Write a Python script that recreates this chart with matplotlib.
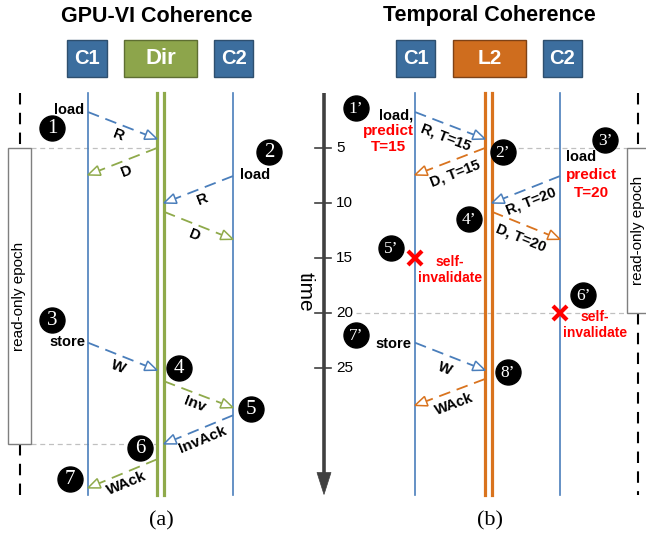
import numpy as np
import matplotlib
matplotlib.use('Agg')
import matplotlib.pyplot as plt
from matplotlib.patches import Rectangle, Polygon
from matplotlib.transforms import Affine2D

plt.rcParams['font.family'] = ['Liberation Sans', 'DejaVu Sans']

# ---------------- data ----------------
time_ticks = [5, 10, 15, 20, 25]
t_max = 36.5

# panel (a) GPU-VI coherence messages
a_src   = ['C1', 'Dir', 'C2', 'Dir', 'C1', 'Dir', 'C2', 'Dir']
a_dst   = ['Dir', 'C1', 'Dir', 'C2', 'Dir', 'C2', 'Dir', 'C1']
a_t0    = [1.73, 5.0, 7.55, 10.8, 22.7, 26.2, 29.3, 33.3]
a_t1    = [4.18, 7.45, 10.0, 13.3, 25.2, 28.6, 31.9, 35.9]
a_label = ['R', 'D', 'R', 'D', 'W', 'Inv', 'InvAck', 'WAck']
a_epoch = (5.0, 31.9)

# panel (b) temporal coherence messages
b_src   = ['C1', 'L2', 'C2', 'L2', 'C1', 'L2']
b_dst   = ['L2', 'C1', 'L2', 'C2', 'L2', 'C1']
b_t0    = [1.73, 5.0, 7.55, 10.8, 22.7, 26.0]
b_t1    = [4.18, 7.45, 10.0, 13.3, 25.2, 28.4]
b_label = ['R, T=15', 'D, T=15', 'R, T=20', 'D, T=20', 'W', 'WAck']
b_epoch = (5.0, 20.0)
b_selfinv_lane = ['C1', 'C2']
b_selfinv_t = [15.0, 20.0]

# step markers (label, x in px, time)
a_steps = ['1', '2', '3', '4', '5', '6', '7']
a_step_x = [52, 269, 52, 179, 251, 140, 70]
a_step_t = [3.18, 5.36, 20.6, 25.0, 28.7, 32.3, 35.1]
b_steps = ['1\u2019', '2\u2019', '3\u2019', '4\u2019', '5\u2019', '6\u2019', '7\u2019', '8\u2019']
b_step_x = [356, 503, 605, 469, 391, 583, 356, 508]
b_step_t = [1.36, 5.36, 4.27, 11.45, 14.1, 18.4, 22.0, 25.4]

# ---------------- layout ----------------
W, H = 646, 538
T0_PX, PX_PER_T = 93, 11.0
BLUE = '#4A7EBB'
GREEN = '#8FAA4B'
ORANGE = '#D9731E'
RED = '#FF0000'

lanes_a = {'C1': 88, 'DirL': 157, 'DirR': 164, 'C2': 233}
lanes_b = {'C1': 415, 'L2L': 485, 'L2R': 492, 'C2': 560}

fig = plt.figure(figsize=(W / 100, H / 100), dpi=100)
ax = fig.add_axes([0, 0, 1, 1])
ax.set_xlim(0, W)
ax.set_ylim((H - T0_PX) / PX_PER_T, -T0_PX / PX_PER_T)
ax.axis('off')
pxT = Affine2D().scale(1.0 / W, -1.0 / H).translate(0, 1) + fig.transFigure


def head(p_from, p_to, length, hw, fc, ec, lw, z):
    a = ax.transData.transform(p_from)
    b = ax.transData.transform(p_to)
    v = b - a
    u = v / np.hypot(*v)
    n = np.array([-u[1], u[0]])
    base = b - u * length
    pts = np.array([b, base + n * hw, base - n * hw])
    ax.add_patch(Polygon(ax.transData.inverted().transform(pts), closed=True,
                         fc=fc, ec=ec, lw=lw, zorder=z, joinstyle='miter'))
    return ax.transData.inverted().transform(base)


def message(x0, t0, x1, t1, color, label, off, fs):
    base = head((x0, t0), (x1, t1), 12, 5, 'white', color, 1.1, 5)
    ax.plot([x0, base[0]], [t0, base[1]], color=color, lw=1.3,
            ls=(0, (6.5, 3.8)), zorder=4, dash_capstyle='butt')
    a = ax.transData.transform((x0, t0))
    b = ax.transData.transform((x1, t1))
    v = b - a
    ang = np.degrees(np.arctan2(v[1], v[0]))
    if ang > 90:
        ang -= 180
    if ang < -90:
        ang += 180
    u = v / np.hypot(*v)
    n = np.array([-u[1], u[0]])
    if n[1] > 0:
        n = -n
    mid = (a + b) / 2 + n * off
    pos = ax.transData.inverted().transform(mid)
    ax.text(pos[0], pos[1], label, rotation=ang, rotation_mode='anchor',
            ha='center', va='center', fontsize=fs, fontweight='bold', zorder=6)


def lane_x(lanes, name, other):
    return lanes[name + ('L' if lanes[other] < lanes[name + 'L'] else 'R')]


def step(x, t, s, fs):
    ax.plot(x, t, 'o', ms=18, color='black', zorder=7)
    ax.text(x, t + 0.05, s, color='white', ha='center', va='center', fontsize=fs,
            family='Liberation Serif', zorder=8)


# titles and component boxes
for x, s in [(157, 'GPU-VI Coherence'), (489, 'Temporal Coherence')]:
    ax.text(x, 16, s, transform=pxT, ha='center', va='center', fontsize=15.5,
            fontweight='bold')
boxes = [(67, 40, 'C1', '#3C6E9E', '#2E4F6E', 14.5), (124, 73, 'Dir', '#8DA54B', '#5E6E32', 16),
         (214, 39, 'C2', '#3C6E9E', '#2E4F6E', 14.5), (396, 39, 'C1', '#3C6E9E', '#2E4F6E', 14.5),
         (453, 73, 'L2', '#CF6D1E', '#7E4216', 15), (543, 39, 'C2', '#3C6E9E', '#2E4F6E', 14.5)]
for x, w, s, fc, ec, fs in boxes:
    ax.add_patch(Rectangle((x, 40), w, 37, transform=pxT, fc=fc, ec=ec, lw=1.0, zorder=3))
    ax.text(x + w / 2, 59, s, transform=pxT, ha='center', va='center', color='white',
            fontsize=fs, fontweight='bold', zorder=4)

# lifelines
for k in ('C1', 'C2'):
    ax.plot([lanes_a[k]] * 2, [0, t_max], color=BLUE, lw=1.2, zorder=2)
    ax.plot([lanes_b[k]] * 2, [0, t_max], color=BLUE, lw=1.2, zorder=2)
for k in ('DirL', 'DirR'):
    ax.plot([lanes_a[k]] * 2, [0, t_max], color=GREEN, lw=2.3, zorder=2)
for k in ('L2L', 'L2R'):
    ax.plot([lanes_b[k]] * 2, [0, t_max], color=ORANGE, lw=2.3, zorder=2)

# read-only epochs
grey_ls = (0, (4, 3))
blk_ls = (0, (5.5, 4))
ax.add_patch(Rectangle((8, a_epoch[0]), 23, a_epoch[1] - a_epoch[0], fc='white',
                       ec='#7F7F7F', lw=1.0, zorder=3))
ax.text(19.5, sum(a_epoch) / 2, 'read-only epoch', rotation=90, ha='center', va='center',
        fontsize=11, zorder=4)
ax.plot([20, 20], [0, a_epoch[0]], color='black', lw=1.5, ls=blk_ls, zorder=2)
ax.plot([20, 20], [a_epoch[1], t_max], color='black', lw=1.5, ls=blk_ls, zorder=2)
for t in a_epoch:
    ax.plot([31, lanes_a['DirL']], [t, t], color='#C0C0C0', lw=0.9, ls=grey_ls, zorder=1)

ax.add_patch(Rectangle((627, b_epoch[0]), 30, b_epoch[1] - b_epoch[0], fc='white',
                       ec='#7F7F7F', lw=1.0, zorder=3))
ax.text(638, sum(b_epoch) / 2, 'read-only epoch', rotation=90, ha='center', va='center',
        fontsize=11, zorder=4)
ax.plot([638, 638], [0, b_epoch[0]], color='black', lw=1.5, ls=blk_ls, zorder=2)
ax.plot([638, 638], [b_epoch[1], t_max], color='black', lw=1.5, ls=blk_ls, zorder=2)
ax.plot([lanes_b['L2R'], 627], [b_epoch[0]] * 2, color='#C0C0C0', lw=0.9, ls=grey_ls, zorder=1)
ax.plot([356, 627], [b_epoch[1]] * 2, color='#C0C0C0', lw=0.9, ls=grey_ls, zorder=1)

# messages
colmap_a = {'C1': BLUE, 'C2': BLUE, 'Dir': GREEN}
for s, d, t0, t1, lab in zip(a_src, a_dst, a_t0, a_t1, a_label):
    x0 = lane_x(lanes_a, s, d) if s == 'Dir' else lanes_a[s]
    x1 = lane_x(lanes_a, d, s) if d == 'Dir' else lanes_a[d]
    message(x0, t0, x1, t1, colmap_a[s], lab, 11, 11)

colmap_b = {'C1': BLUE, 'C2': BLUE, 'L2': ORANGE}
for s, d, t0, t1, lab in zip(b_src, b_dst, b_t0, b_t1, b_label):
    x0 = lane_x(lanes_b, s, d) if s == 'L2' else lanes_b[s]
    x1 = lane_x(lanes_b, d, s) if d == 'L2' else lanes_b[d]
    message(x0, t0, x1, t1, colmap_b[s], lab, 13, 10.5)

# action texts
ax.text(84, 1.55, 'load', ha='right', va='center', fontsize=10.5, fontweight='bold')
ax.text(240, 7.45, 'load', ha='left', va='center', fontsize=10.5, fontweight='bold')
ax.text(85, 22.6, 'store', ha='right', va='center', fontsize=10.5, fontweight='bold')
ax.text(413, 2.0, 'load,', ha='right', va='center', fontsize=10.5, fontweight='bold')
ax.text(388, 3.45, 'predict', ha='center', va='center', fontsize=11, fontweight='bold', color=RED)
ax.text(388, 4.9, 'T=15', ha='center', va='center', fontsize=11, fontweight='bold', color=RED)
ax.text(566, 5.8, 'load', ha='left', va='center', fontsize=10.5, fontweight='bold')
ax.text(591, 7.45, 'predict', ha='center', va='center', fontsize=11, fontweight='bold', color=RED)
ax.text(591, 9.1, 'T=20', ha='center', va='center', fontsize=11, fontweight='bold', color=RED)
ax.text(411, 22.8, 'store', ha='right', va='center', fontsize=10.5, fontweight='bold')
for lane, t, cx in zip(b_selfinv_lane, b_selfinv_t, [450, 595]):
    ax.plot(lanes_b[lane], t, marker='x', ms=10, mew=3, color=RED, zorder=6)
    ax.text(cx, t + 0.4, 'self-', ha='center', va='center', fontsize=10, fontweight='bold', color=RED)
    ax.text(cx, t + 1.8, 'invalidate', ha='center', va='center', fontsize=10, fontweight='bold', color=RED)

# step markers
for s, x, t in zip(a_steps, a_step_x, a_step_t):
    step(x, t, s, 15)
for s, x, t in zip(b_steps, b_step_x, b_step_t):
    step(x, t, s, 12.5)

# time axis
AX_X = 324
hb = head((AX_X, 0), (AX_X, t_max), 22, 7, '#404040', '#404040', 0.5, 3)
ax.plot([AX_X, AX_X], [0, hb[1]], color='#404040', lw=2.6, zorder=3, solid_capstyle='butt')
for t in time_ticks:
    ax.plot([315, 331], [t, t], color='#404040', lw=1.2, zorder=3)
    ax.text(336, t, str(t), ha='left', va='center', fontsize=11)
ax.text(305, 18.1, 'time', rotation=270, ha='center', va='center', fontsize=15)

# captions
for x, s in [(161, '(a)'), (490, '(b)')]:
    ax.text(x, 521, s, transform=pxT, ha='center', va='center', fontsize=16,
            family='Liberation Serif')

fig.savefig('out.png', dpi=100)
